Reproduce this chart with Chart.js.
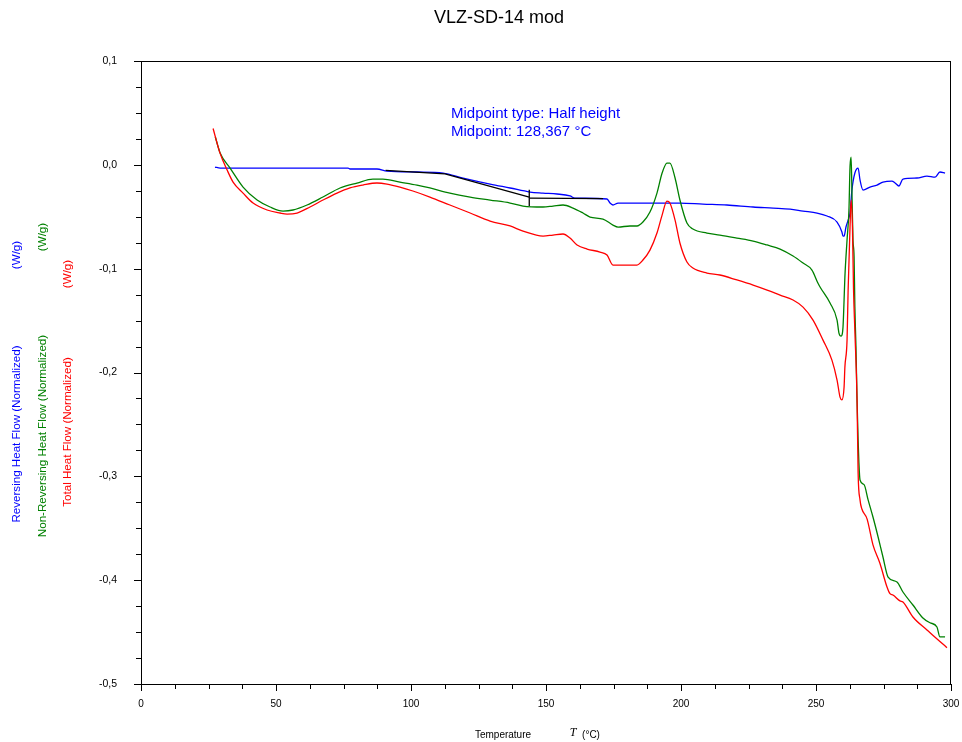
<!DOCTYPE html>
<html><head><meta charset="utf-8">
<script src="https://cdn.jsdelivr.net/npm/chart.js@4/dist/chart.umd.min.js"></script>
<style>html,body{margin:0;padding:0;background:#fff}#wrap{width:962px;height:742px}</style>
</head><body><div id="wrap"><canvas id="c" width="962" height="742"></canvas></div>
<script>
const chartTitle = 'VLZ-SD-14 mod';
const xTitleText = 'Temperature';
const xTitleSymbol = 'T';
const xTitleUnit = '(°C)';
const seriesNames = ['Reversing Heat Flow (Normalized)', 'Non-Reversing Heat Flow (Normalized)', 'Total Heat Flow (Normalized)'];
const unitLabel = '(W/g)';
const annotationText = ['Midpoint type: Half height', 'Midpoint: 128,367 °C'];

// Reversing Heat Flow (blue)
const revT = [27.4,29.3,76.7,77.4,87.4,91.1,102.2,111.9,119.3,129.3,136.7,144.1,148.9,154.1,158.9,160.7,172.6,173.7,174.8,176.7,189.6,199.6,208.1,217.0,226.7,234.1,240.4,245.2,250.4,254.1,257.8,259.6,260.0,260.4,261.1,261.9,262.6,263.3,264.4,265.6,266.3,267.4,270.0,272.6,274.8,278.1,279.3,280.7,282.2,287.4,291.1,294.1,295.9,297.8];
const revY = [-0.0021,-0.0031,-0.0031,-0.0040,-0.0040,-0.0060,-0.0069,-0.0079,-0.0127,-0.0185,-0.0223,-0.0262,-0.0272,-0.0281,-0.0300,-0.0320,-0.0329,-0.0368,-0.0387,-0.0368,-0.0368,-0.0368,-0.0378,-0.0387,-0.0406,-0.0416,-0.0426,-0.0445,-0.0464,-0.0493,-0.0551,-0.0647,-0.0686,-0.0686,-0.0599,-0.0532,-0.0464,-0.0243,-0.0079,-0.0031,-0.0146,-0.0243,-0.0214,-0.0195,-0.0166,-0.0156,-0.0175,-0.0204,-0.0137,-0.0127,-0.0108,-0.0118,-0.0069,-0.0079];

// Non-Reversing Heat Flow (green)
const nonT = [27.5,29.3,33.0,37.8,43.0,47.8,52.6,56.3,61.5,67.4,73.7,80.0,85.9,89.6,95.9,102.2,107.0,114.4,121.9,129.3,136.7,141.5,148.9,152.6,156.3,160.0,163.7,166.3,171.1,174.8,176.7,181.1,183.7,185.9,188.5,191.1,193.0,194.8,195.9,197.8,199.6,202.2,204.4,209.6,214.4,220.7,226.7,231.9,236.7,241.5,245.2,248.5,250.7,251.5,255.2,257.8,258.5,259.3,260.0,260.4,260.7,261.5,262.2,262.6,263.0,263.3,263.7,264.1,264.4,264.8,265.2,265.6,265.9,266.3,267.8,269.3,271.1,273.0,274.8,276.7,280.0,282.2,285.9,289.6,292.2,294.8,295.9,297.8];
const nonY = [0.027,0.0114,-0.0031,-0.0214,-0.0339,-0.0406,-0.0445,-0.0435,-0.0387,-0.0310,-0.0223,-0.0175,-0.0137,-0.0137,-0.0166,-0.0195,-0.0223,-0.0272,-0.0310,-0.0339,-0.0368,-0.0397,-0.0406,-0.0397,-0.0387,-0.0416,-0.0464,-0.0503,-0.0522,-0.0580,-0.0599,-0.0589,-0.0589,-0.0551,-0.0455,-0.0272,-0.0079,0.0017,0.0017,-0.0127,-0.0339,-0.0561,-0.0618,-0.0657,-0.0676,-0.0705,-0.0734,-0.0772,-0.0811,-0.0878,-0.0946,-0.1013,-0.1138,-0.1177,-0.1331,-0.1495,-0.1620,-0.1649,-0.1563,-0.1302,-0.1080,-0.0724,-0.0435,-0.0017,0.0075,-0.0243,-0.0724,-0.088,-0.137,-0.175,-0.2264,-0.2650,-0.2871,-0.3035,-0.308,-0.3227,-0.3392,-0.3584,-0.3777,-0.3970,-0.4018,-0.4114,-0.4239,-0.4364,-0.4410,-0.4451,-0.4547,-0.4547];

// Total Heat Flow (red)
const totT = [26.7,29.3,31.9,34.1,37.8,41.5,46.7,51.5,54.1,57.8,62.6,67.4,72.6,77.4,82.2,87.4,91.1,95.9,100.7,107.0,114.4,121.9,129.3,136.7,141.5,148.9,152.6,156.3,158.9,161.5,165.2,170.0,172.6,174.8,177.4,183.7,185.9,188.5,191.1,193.0,194.8,195.9,197.8,199.6,202.2,204.4,209.6,214.4,220.7,226.7,231.9,236.7,241.5,245.2,248.9,252.6,255.9,257.8,258.9,259.6,260.4,260.7,261.5,261.9,262.6,263.0,263.5,263.9,264.4,265.2,265.6,266.3,267.0,268.9,271.1,273.7,276.3,277.4,278.5,281.1,282.2,285.9,291.1,295.9,298.5];
const totY = [0.035,0.011,-0.005,-0.0166,-0.0272,-0.0368,-0.0435,-0.0464,-0.0474,-0.0464,-0.0406,-0.0339,-0.0272,-0.0223,-0.0195,-0.0175,-0.0185,-0.0214,-0.0252,-0.0310,-0.0387,-0.0464,-0.0541,-0.0589,-0.0638,-0.0686,-0.0676,-0.0666,-0.0705,-0.0772,-0.0811,-0.0840,-0.0869,-0.0965,-0.0965,-0.0965,-0.0917,-0.0821,-0.0657,-0.0484,-0.0349,-0.0368,-0.0532,-0.0753,-0.0936,-0.0994,-0.1042,-0.1061,-0.1109,-0.1158,-0.1206,-0.1254,-0.1302,-0.1370,-0.1495,-0.1688,-0.1881,-0.2073,-0.2237,-0.2264,-0.2141,-0.1948,-0.1688,-0.1206,-0.0599,-0.0339,-0.06,-0.12,-0.16,-0.226,-0.2967,-0.3227,-0.3315,-0.341,-0.366,-0.384,-0.4066,-0.413,-0.4143,-0.420,-0.4210,-0.4355,-0.4480,-0.459,-0.465];

// Glass transition analysis construction lines (black)
const tangentT = [90.6,112.6,143.8];
const tangentY = [-0.0053,-0.0088,-0.031];
const baseT = [143.8,171.1];
const baseY = [-0.032,-0.0325];
const markT = [143.8,143.8];
const markY = [-0.024,-0.0397];

// axis ranges / ticks
const xMin = 0, xMax = 300, xStep = 12.5, xMajor = 50;
const yMin = -0.5, yMax = 0.1, yStep = 0.025, yMajor = 0.1;
const annotAt = [114.8, 0.049];

const pts = (t, v) => t.map((x, i) => ({x: x, y: v[i]}));
const FONT = '"Liberation Sans", Arial, sans-serif';

const deco = {
  id: 'deco',
  afterDraw(chart) {
    const {ctx, chartArea: a, scales: {x, y}} = chart;
    ctx.save();
    ctx.strokeStyle = '#000'; ctx.lineWidth = 1;
    ctx.strokeRect(a.left + 0.5, a.top + 0.5, a.right - a.left - 1, a.bottom - a.top);
    ctx.beginPath();
    x.ticks.forEach(t => {
      const px = Math.round(x.getPixelForValue(t.value)) + 0.5;
      const maj = Math.abs(t.value / xMajor - Math.round(t.value / xMajor)) < 1e-6;
      ctx.moveTo(px, a.bottom); ctx.lineTo(px, a.bottom + (maj ? 7 : 5));
    });
    y.ticks.forEach(t => {
      const py = Math.round(y.getPixelForValue(t.value)) + 0.5;
      const maj = Math.abs(t.value / yMajor - Math.round(t.value / yMajor)) < 1e-6;
      ctx.moveTo(a.left, py); ctx.lineTo(a.left - (maj ? 7 : 5), py);
    });
    ctx.stroke();

    // title
    ctx.fillStyle = '#000';
    ctx.font = '18px ' + FONT;
    ctx.textAlign = 'center'; ctx.textBaseline = 'middle';
    ctx.fillText(chartTitle, 499, 18);

    // x title
    ctx.font = '10px ' + FONT;
    ctx.textAlign = 'center';
    ctx.fillText(xTitleText, 503, 735);
    ctx.font = 'italic 12px "Liberation Serif", "Times New Roman", serif';
    ctx.fillText(xTitleSymbol, 573, 733);
    ctx.font = '10px ' + FONT;
    ctx.fillText(xTitleUnit, 591, 735);

    // y titles (rotated)
    const ytitles = [
      {text: seriesNames[0], color: '#0000FF', x: 17, y: 434, uy: 255},
      {text: seriesNames[1], color: '#008000', x: 43, y: 436, uy: 237},
      {text: seriesNames[2], color: '#FF0000', x: 68, y: 432, uy: 274}
    ];
    ctx.font = '11.6px ' + FONT;
    ytitles.forEach(o => {
      ctx.fillStyle = o.color;
      ctx.save(); ctx.translate(o.x, o.y); ctx.rotate(-Math.PI / 2);
      ctx.fillText(o.text, 0, 0); ctx.restore();
      ctx.save(); ctx.translate(o.x, o.uy); ctx.rotate(-Math.PI / 2);
      ctx.fillText(unitLabel, 0, 0); ctx.restore();
    });

    // annotation
    ctx.fillStyle = '#0000FF';
    ctx.font = '15px ' + FONT;
    ctx.textAlign = 'left';
    const ax = x.getPixelForValue(annotAt[0]);
    const ay = y.getPixelForValue(annotAt[1]);
    ctx.fillText(annotationText[0], ax, ay);
    ctx.fillText(annotationText[1], ax, ay + 18);
    ctx.restore();
  }
};

const lineDs = (label, data, color, order, smooth) => ({
  label, data, borderColor: color, backgroundColor: color,
  borderWidth: 1.3, pointRadius: 0, fill: false, order,
  cubicInterpolationMode: smooth ? 'monotone' : 'default', tension: 0
});

new Chart(document.getElementById('c'), {
  type: 'line',
  data: {
    datasets: [
      lineDs(seriesNames[2], pts(totT, totY), '#FF0000', 0, true),
      lineDs('tangent', pts(tangentT, tangentY), '#000000', 1, false),
      lineDs('base', pts(baseT, baseY), '#000000', 1, false),
      lineDs('mark', pts(markT, markY), '#000000', 1, false),
      lineDs(seriesNames[1], pts(nonT, nonY), '#008000', 2, true),
      lineDs(seriesNames[0], pts(revT, revY), '#0000FF', 3, true)
    ]
  },
  options: {
    responsive: false, animation: false, devicePixelRatio: 1,
    layout: {padding: {top: 61, right: 11, left: 0, bottom: 0}},
    plugins: {legend: {display: false}, title: {display: false}, tooltip: {enabled: false}},
    scales: {
      x: {
        type: 'linear', min: xMin, max: xMax,
        grid: {display: false}, border: {display: false},
        afterFit: s => { s.height = 58; s.paddingLeft = 0; s.paddingRight = 0; },
        ticks: {
          stepSize: xStep, autoSkip: false, maxRotation: 0, maxTicksLimit: 100, padding: 6,
          color: '#000', font: {family: FONT, size: 10},
          callback: v => Math.abs(v / xMajor - Math.round(v / xMajor)) < 1e-6 ? String(Math.round(v)) : ''
        }
      },
      y: {
        type: 'linear', min: yMin, max: yMax,
        grid: {display: false}, border: {display: false},
        afterFit: s => { s.width = 141; s.paddingTop = 0; s.paddingBottom = 0; },
        ticks: {
          stepSize: yStep, autoSkip: false, maxTicksLimit: 100, padding: 16,
          color: '#000', font: {family: FONT, size: 10.5},
          callback: v => {
            if (Math.abs(v / yMajor - Math.round(v / yMajor)) > 1e-6) return '';
            const r = Math.round(v * 10) / 10;
            return r.toFixed(1).replace('.', ',');
          }
        }
      }
    }
  },
  plugins: [deco]
});
</script></body></html>
